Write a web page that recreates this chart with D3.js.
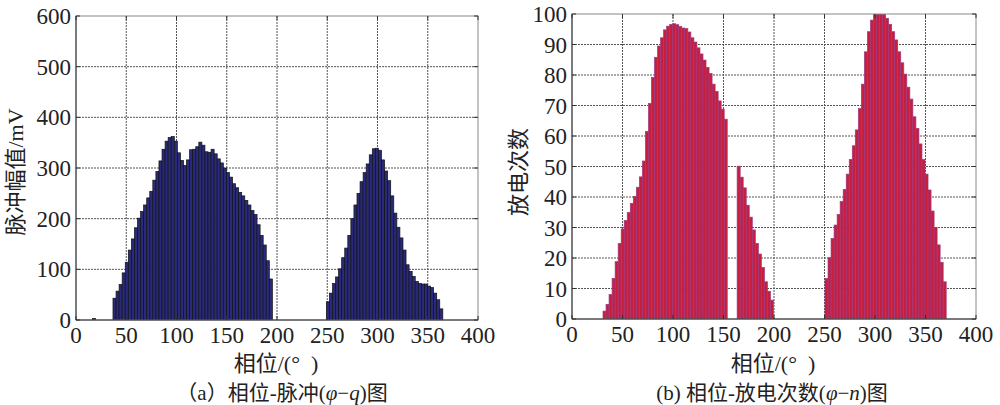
<!DOCTYPE html>
<html>
<head>
<meta charset="utf-8">
<script src="https://cdn.jsdelivr.net/npm/d3@7"></script>
<style>
  body { margin: 0; background: #fff; }
</style>
</head>
<body>
<svg id="chart" width="1000" height="405"></svg>
<script>
// (a) phase - pulse amplitude (mV), bars of pulseBin degrees starting at pulseStarts
const pulseBin = 3.05;
const pulseStarts = [16.5, 36.8, 249.1];
const pulseA = [3];
const pulseB = [43, 57, 70, 93, 114, 138, 160, 182, 201, 214, 227, 241, 254, 276, 293, 314, 337, 353, 360, 362,
    353, 330, 315, 305, 316, 336, 337, 342, 351, 345, 332, 331, 337, 328, 318, 310, 300, 291, 282, 269,
    261, 252, 245, 236, 227, 216, 208, 188, 167, 148, 117, 81];
const pulseC = [36, 53, 72, 85, 101, 123, 142, 167, 200, 227, 250, 273, 291, 308, 326, 338, 339, 335, 316, 294,
    275, 245, 211, 183, 162, 138, 109, 96, 86, 76, 72, 71, 71, 67, 64, 53, 40, 22];

// (b) phase - discharge count
const countBin = 3.0;
const countStarts = [30.7, 163.5, 250.5];
const countA = [2.6, 4.8, 8.0, 13.3, 18.8, 24.8, 29.5, 32.3, 34.9, 37.9, 40.2, 43.2, 46.6, 51.8, 61.5, 70.7,
    79.2, 85.8, 89.5, 92.2, 94.8, 96.0, 96.6, 96.8, 96.5, 95.9, 95.4, 95.2, 94.1, 92.2, 90.8, 88.9, 86.9,
    84.9, 82.5, 80.5, 77.0, 74.6, 71.5, 68.8, 65.5];
const countB = [50.1, 46.5, 43.0, 37.3, 33.4, 29.2, 24.8, 21.3, 16.9, 12.2, 9.1, 6.2];
const countC = [13.3, 20.1, 26.4, 30.8, 34.3, 38.5, 42.5, 47.5, 52.3, 56.8, 62, 69, 77, 87.6, 94.2, 98,
    100, 101, 101, 100, 98.6, 96.6, 94.2, 91.5, 87.6, 84, 80.3, 76, 72.1, 66.3, 62.5, 57.4, 52.3, 47.5,
    42.3, 35.4, 30, 24.3, 18.6, 12.2];

const phaseTicks = [0, 50, 100, 150, 200, 250, 300, 350, 400];
const pulseTicks = [0, 100, 200, 300, 400, 500, 600];
const countTicks = [0, 10, 20, 30, 40, 50, 60, 70, 80, 90, 100];

const FONT = "'Liberation Serif', 'Times New Roman', 'DejaVu Serif', 'Noto Sans CJK SC', serif";

const svg = d3.select("#chart")
    .attr("font-family", FONT)
    .attr("fill", "#222");

function toBars(starts, groups, bin) {
    const out = [];
    groups.forEach((vals, g) => vals.forEach((v, i) => out.push({ p: starts[g] + i * bin, v: v })));
    return out;
}

function panel(o) {
    const x = d3.scaleLinear().domain([0, 400]).range([o.left, o.right]);
    const y = d3.scaleLinear().domain([0, o.yMax]).range([o.bottom, o.top]);
    const g = svg.append("g");

    g.append("clipPath").attr("id", o.id)
        .append("rect")
        .attr("x", o.left).attr("y", o.top)
        .attr("width", o.right - o.left).attr("height", o.bottom - o.top);

    g.append("rect")
        .attr("x", o.left).attr("y", o.top)
        .attr("width", o.right - o.left).attr("height", o.bottom - o.top)
        .attr("fill", "#fff");

    // grid
    g.append("g").selectAll("line")
        .data(phaseTicks.slice(1, -1))
        .enter().append("line")
        .attr("x1", d => x(d)).attr("x2", d => x(d))
        .attr("y1", o.top).attr("y2", o.bottom)
        .attr("stroke", "#555").attr("stroke-dasharray", "2,1");
    g.append("g").selectAll("line")
        .data(o.yTicks.slice(1, -1))
        .enter().append("line")
        .attr("y1", d => y(d)).attr("y2", d => y(d))
        .attr("x1", o.left).attr("x2", o.right)
        .attr("stroke", "#555").attr("stroke-dasharray", "2,1");

    // bars
    const bw = x(o.bin) - x(0);
    g.append("g").attr("clip-path", `url(#${o.id})`)
        .selectAll("rect")
        .data(o.bars)
        .enter().append("rect")
        .attr("x", d => x(d.p))
        .attr("y", d => y(d.v))
        .attr("width", bw)
        .attr("height", d => y(0) - y(d.v))
        .attr("fill", o.fill)
        .attr("stroke", o.stroke)
        .attr("stroke-width", 0.7);

    // box
    g.append("rect")
        .attr("x", o.left).attr("y", o.top)
        .attr("width", o.right - o.left).attr("height", o.bottom - o.top)
        .attr("fill", "none").attr("stroke", "#888");
    g.append("path")
        .attr("d", `M${o.left},${o.top}V${o.bottom}H${o.right}`)
        .attr("fill", "none").attr("stroke", "#333");

    // inner ticks
    const tk = g.append("g").attr("stroke", "#333");
    phaseTicks.forEach(t => {
        tk.append("line").attr("x1", x(t)).attr("x2", x(t)).attr("y1", o.bottom).attr("y2", o.bottom - 4);
        tk.append("line").attr("x1", x(t)).attr("x2", x(t)).attr("y1", o.top).attr("y2", o.top + 4);
    });
    o.yTicks.forEach(t => {
        tk.append("line").attr("y1", y(t)).attr("y2", y(t)).attr("x1", o.left).attr("x2", o.left + 4);
        tk.append("line").attr("y1", y(t)).attr("y2", y(t)).attr("x1", o.right).attr("x2", o.right - 4);
    });

    // tick labels
    g.append("g").selectAll("text")
        .data(phaseTicks)
        .enter().append("text")
        .attr("x", d => x(d)).attr("y", o.bottom + 23)
        .attr("text-anchor", "middle")
        .attr("font-size", 23)
        .text(d => d);
    g.append("g").selectAll("text")
        .data(o.yTicks)
        .enter().append("text")
        .attr("x", o.left - 5).attr("y", d => y(d) + 8)
        .attr("text-anchor", "end")
        .attr("font-size", 23)
        .text(d => d);

    // axis titles
    g.append("text")
        .attr("transform", `translate(${o.yLabelX},${o.yLabelY}) rotate(-90)`)
        .attr("text-anchor", "middle")
        .attr("font-size", 22)
        .text(o.yLabel);
    g.append("text")
        .attr("x", (o.left + o.right) / 2 - 1).attr("y", 371)
        .attr("text-anchor", "middle")
        .attr("font-size", 22)
        .text("相位/(°\u2002)");

    // caption
    const cap = g.append("text")
        .attr("x", o.capX).attr("y", 400)
        .attr("text-anchor", "middle")
        .attr("font-size", 21);
    cap.append("tspan").text(o.capPre);
    cap.append("tspan").attr("font-style", "italic").text("φ");
    cap.append("tspan").text("−");
    cap.append("tspan").attr("font-style", "italic").text(o.capVar);
    cap.append("tspan").text(")图");
}

panel({
    id: "clipA", left: 76, right: 478, top: 16, bottom: 320, yMax: 600,
    yTicks: pulseTicks, bin: pulseBin,
    bars: toBars(pulseStarts, [pulseA, pulseB, pulseC], pulseBin),
    fill: "#2a2a7c", stroke: "#111",
    yLabel: "脉冲幅值/mV", yLabelX: 23, yLabelY: 172,
    capX: 282, capPre: "（a）相位-脉冲(", capVar: "q"
});

panel({
    id: "clipB", left: 572, right: 976, top: 14, bottom: 319, yMax: 100,
    yTicks: countTicks, bin: countBin,
    bars: toBars(countStarts, [countA, countB, countC], countBin),
    fill: "#c61f3e", stroke: "#9c3a86",
    yLabel: "放电次数", yLabelX: 526, yLabelY: 172,
    capX: 772, capPre: "(b) 相位-放电次数(", capVar: "n"
});
</script>
</body>
</html>
